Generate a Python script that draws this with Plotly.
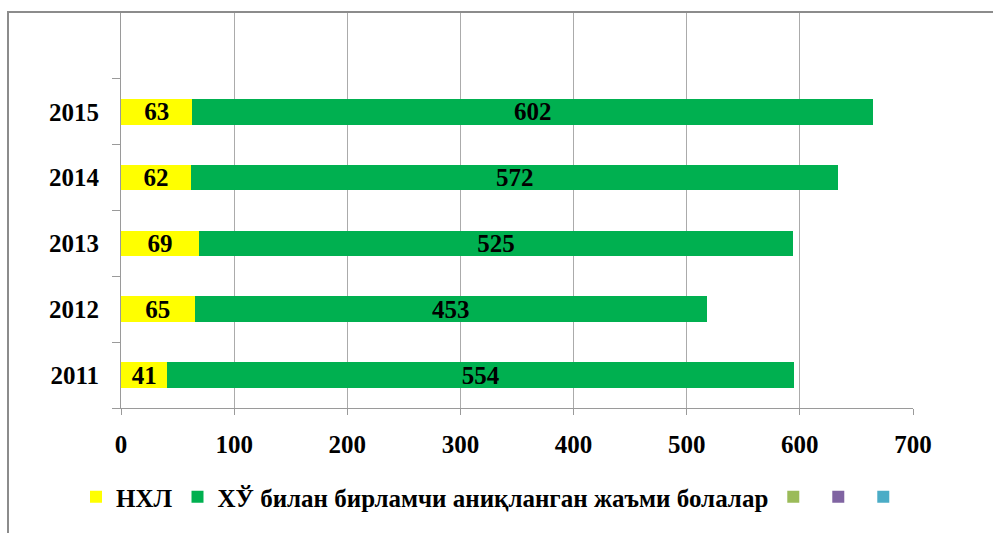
import plotly.graph_objects as go

# Data
years = ["2011", "2012", "2013", "2014", "2015"]
nhl = [41, 65, 69, 62, 63]
hiv_children = [554, 453, 525, 572, 602]
series_names = ["НХЛ", "ХЎ билан бирламчи аниқланган жаъми болалар"]
x_ticks = [0, 100, 200, 300, 400, 500, 600, 700]
# extra (empty) series that only appear in the legend
extra_colors = ["#9BBB59", "#8064A2", "#4BACC6"]
extra_values = [0]

FONT = "Liberation Serif"
W, H = 993, 533
ML, MR, MT, MB = 121, 80, 13, 125
PW, PH = W - ML - MR, H - MT - MB


def px_x(p):
    return (p - ML) / PW


def px_y(p):
    return (H - MB - p) / PH


label_font = dict(family=FONT, size=25, color="black", weight="bold")

fig = go.Figure()
fig.add_trace(go.Bar(
    y=years, x=nhl, orientation="h", name=series_names[0],
    marker=dict(color="#FFFF00", line=dict(width=0)),
    text=[str(v) for v in nhl], textposition="inside", insidetextanchor="middle",
    textangle=0, constraintext="none", textfont=label_font,
    width=0.39, hoverinfo="skip",
))
fig.add_trace(go.Bar(
    y=years, x=hiv_children, orientation="h", name=series_names[1],
    marker=dict(color="#00B050", line=dict(width=0)),
    text=[str(v) for v in hiv_children], textposition="inside", insidetextanchor="middle",
    textangle=0, constraintext="none", textfont=label_font,
    width=0.39, hoverinfo="skip",
))
for c in extra_colors:
    fig.add_trace(go.Bar(
        y=years[:1], x=extra_values, orientation="h", name="",
        marker=dict(color=c, line=dict(width=0)),
        width=0.39, showlegend=True, hoverinfo="skip",
    ))

fig.update_layout(
    width=W, height=H,
    margin=dict(l=ML, r=MR, t=MT, b=MB, pad=0),
    barmode="stack",
    plot_bgcolor="white", paper_bgcolor="white",
    font=dict(family=FONT, color="black"),
    showlegend=True,
    legend=dict(
        orientation="h", traceorder="normal",
        x=px_x(76), xanchor="left", y=px_y(497), yanchor="middle",
        font=dict(family=FONT, size=25, color="black", weight="bold"),
        itemwidth=30, tracegroupgap=0,
        bgcolor="rgba(0,0,0,0)",
    ),
    xaxis=dict(
        range=[0, 700], tickvals=x_ticks, ticktext=[str(v) for v in x_ticks],
        showgrid=True, gridcolor="#ABABAB", gridwidth=1,
        showline=True, linecolor="#9A9A9A", linewidth=1,
        ticks="outside", ticklen=6, tickcolor="#9A9A9A",
        tickfont=dict(family=FONT, size=25, color="black", weight="bold"),
        ticklabelstandoff=8, zeroline=False, fixedrange=True,
    ),
    yaxis=dict(
        type="category", categoryorder="array", categoryarray=years,
        range=[-0.5, 5.5], showgrid=False,
        showline=True, linecolor="#9A9A9A", linewidth=1,
        ticks="outside", ticklen=8, tickcolor="#9A9A9A", tickson="boundaries",
        tickfont=dict(family=FONT, size=25, color="black", weight="bold"),
        ticklabelstandoff=16, zeroline=False, fixedrange=True,
    ),
    shapes=[dict(
        type="rect", xref="paper", yref="paper",
        x0=px_x(8), x1=px_x(W + 20), y0=px_y(H + 20), y1=px_y(12),
        line=dict(color="#8C8C8C", width=2), fillcolor="rgba(0,0,0,0)",
        layer="above",
    )],
)

fig.write_html("out.html", config={"displayModeBar": False})
